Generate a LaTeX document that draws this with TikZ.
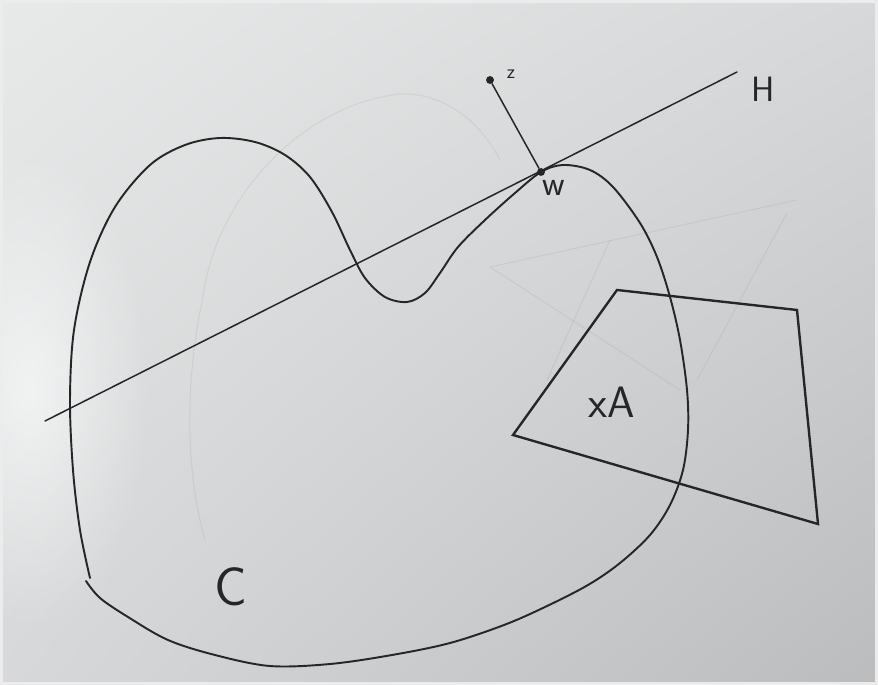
\documentclass[tikz,border=0pt]{standalone}
\usepackage{tikz}
\usetikzlibrary{positioning,calc,fadings,shadings}
\definecolor{paperhi}{RGB}{232,234,234}
\definecolor{papermid}{RGB}{214,216,217}
\definecolor{paperlo}{RGB}{186,188,190}
\definecolor{pencil}{RGB}{38,38,40}
\definecolor{ghost}{RGB}{150,152,155}
\tikzfading[name=glow, inner color=transparent!0, outer color=transparent!100]

\begin{document}
\begin{tikzpicture}[
    x=0.02cm, y=-0.02cm,
    ink/.style={draw=pencil, line width=1.1pt, line cap=round, line join=round},
    thinink/.style={draw=pencil, line width=0.85pt, line cap=round},
    boldink/.style={draw=pencil, line width=1.35pt, line cap=round},
    trace/.style={draw=ghost, line width=0.6pt, opacity=0.18},
    lbl/.style={inner sep=0pt, text=pencil, font=\sffamily},
    dot/.style={circle, fill=pencil, inner sep=0pt, minimum size=4.5pt}
]
\useasboundingbox (0,0) rectangle (878,685);
% paper
\shade[upper left=paperhi, upper right=papermid, lower left=papermid, lower right=paperlo] (0,0) rectangle (878,685);
\fill[white, opacity=0.6, path fading=glow] (30,390) ellipse (120 and 240);
\draw[white!85!gray, line width=2pt] (1,1) rectangle (877,684);

% erased pencil traces
\draw[trace] (203,297) .. controls (215,200) and (300,105) .. (400,94) .. controls (450,92) and (485,130) .. (500,160);
\draw[trace] (203,297) .. controls (185,380) and (185,470) .. (205,540);
\draw[trace] (490,267) -- (797,200);
\draw[trace] (490,267) -- (680,390);
\draw[trace] (787,213) -- (697,380);
\draw[trace] (610,240) -- (547,380);

% the set C
\draw[ink] plot[smooth, tension=0.55] coordinates {
    (90,578) (80,530) (73,470) (70,400) (74,330) (90,262) (115,207) (150,165)
    (185,145) (220,138) (255,142) (285,155) (310,177) (332,212) (350,250)
    (365,278) (385,297) (407,302) (425,293) (440,273) (458,247) (485,220)
    (515,193) (541,172) (563,165) (590,170) (613,187) (640,223) (657,257)
    (670,297) (680,340) (687,390) (688,430) (683,470) (670,505) (650,535)
    (620,563) (588,585) (545,607) (504,625) (450,643) (392,655) (330,664)
    (270,666) (215,655) (168,640) (128,617) (100,598) (86,581)};
\node[lbl, font=\sffamily\fontsize{31}{34}\selectfont] (Clab) at (231,587) {C};

% hyperplane H through w
\coordinate (hl) at (45,421);
\coordinate (hr) at (737,72);
\node[dot] (w) at (541,172) {};
\node[dot] (z) at (490,80) {};
\draw[thinink] (hl) -- (hr);
\draw[thinink] (z) -- (w);
\node[lbl, font=\sffamily\fontsize{20}{24}\selectfont] (Hlab) at (763,89) {H};
\node[lbl, font=\sffamily\fontsize{20}{24}\selectfont] (wlab) at (554,188) {w};
\node[lbl, font=\sffamily\fontsize{11}{13}\selectfont] (zlab) at (511,74) {z};

% translated set xA
\coordinate (a1) at (617,290);
\coordinate (a2) at (797,310);
\coordinate (a3) at (818,524);
\coordinate (a4) at (513,435);
\draw[boldink] (a1) -- (a2) -- (a3) -- (a4) -- cycle;
\node[lbl, font=\sffamily\fontsize{25}{28}\selectfont] (xAlab) at (612,402) {xA};
\end{tikzpicture}
\end{document}
